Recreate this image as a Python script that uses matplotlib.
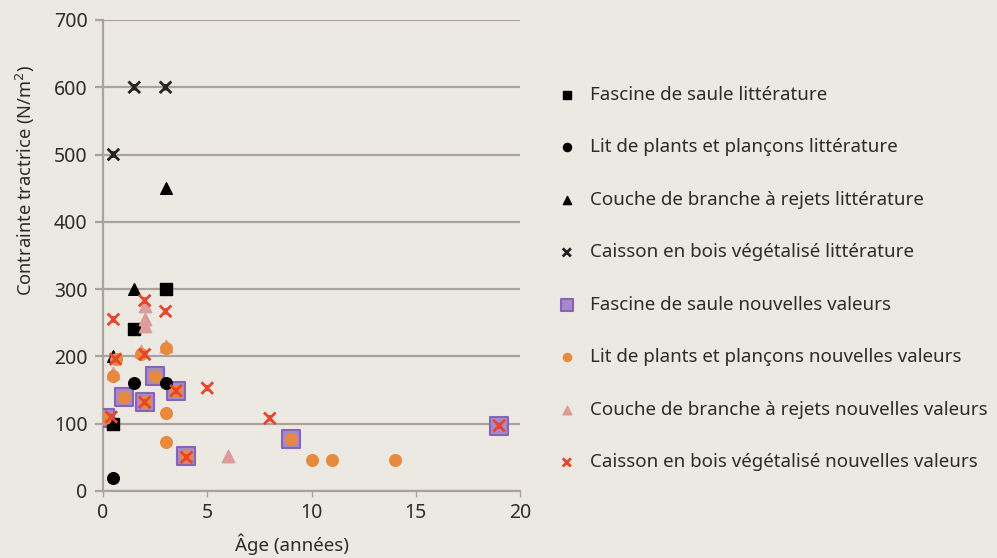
import matplotlib
matplotlib.use("Agg")
import matplotlib.pyplot as plt
from matplotlib.path import Path

# ---- data ----
fascine_lit_x = [0.5, 1.5, 3]
fascine_lit_y = [100, 240, 300]
lit_lit_x = [0.5, 1.5, 3]
lit_lit_y = [20, 160, 160]
couche_lit_x = [0.5, 1.5, 3]
couche_lit_y = [200, 300, 450]
caisson_lit_x = [0.5, 1.5, 3]
caisson_lit_y = [500, 600, 600]

fascine_new_x = [0.1, 1, 2, 2.5, 3.5, 4, 9, 19]
fascine_new_y = [108, 140, 132, 171, 149, 52, 77, 97]
lit_new_x = [0.1, 0.5, 0.6, 1, 1.8, 2, 2.5, 3, 3, 3, 3.5, 4, 9, 10, 11, 14]
lit_new_y = [108, 171, 196, 140, 203, 132, 171, 212, 116, 73, 149, 52, 77, 46, 46, 46]
couche_new_x = [0.5, 1.8, 2, 2, 2, 3, 6]
couche_new_y = [176, 208, 275, 255, 245, 216, 52]
caisson_new_x = [0.4, 0.5, 0.6, 2, 2, 2, 3, 3.5, 4, 5, 8, 19]
caisson_new_y = [110, 255, 196, 283, 203, 132, 267, 149, 50, 153, 108, 97]

labels = [
    "Fascine de saule littérature",
    "Lit de plants et plançons littérature",
    "Couche de branche à rejets littérature",
    "Caisson en bois végétalisé littérature",
    "Fascine de saule nouvelles valeurs",
    "Lit de plants et plançons nouvelles valeurs",
    "Couche de branche à rejets nouvelles valeurs",
    "Caisson en bois végétalisé nouvelles valeurs",
]

plt.rcParams['font.family'] = ['Noto Sans', 'DejaVu Sans']

bg = "#ece9e3"
grid_c = "#aaa39c"
text_c = "#2f2b29"

# x with a short vertical bar (Excel "star" style)
star = Path([(-1, -1), (1, 1), (-1, 1), (1, -1), (0, -0.55), (0, 0.55)],
            [Path.MOVETO, Path.LINETO, Path.MOVETO, Path.LINETO, Path.MOVETO, Path.LINETO])

fig = plt.figure(figsize=(9.97, 5.58), dpi=100, facecolor=bg)
ax = fig.add_axes([0.1033, 0.1201, 0.4183, 0.8441])
ax.set_facecolor(bg)

h = []
h.append(ax.scatter(fascine_lit_x, fascine_lit_y, marker='s', s=70, c='black', zorder=5))
h.append(ax.scatter(lit_lit_x, lit_lit_y, marker='o', s=70, c='black', zorder=5))
h.append(ax.scatter(couche_lit_x, couche_lit_y, marker='^', s=70, c='black', zorder=5))
h.append(ax.scatter(caisson_lit_x, caisson_lit_y, marker=star, s=70, c='none',
                    edgecolors='#222222', linewidths=2, zorder=5))
h.append(ax.scatter(fascine_new_x, fascine_new_y, marker='s', s=150, c='#a58bc7',
                    edgecolors='#8a62b8', linewidths=1.5, zorder=4))
h.append(ax.scatter(couche_new_x, couche_new_y, marker='^', s=80, c='#dc9c9a', zorder=5))
h.append(ax.scatter(lit_new_x, lit_new_y, marker='o', s=70, c='#e88a3e', zorder=6))
h.append(ax.scatter(caisson_new_x, caisson_new_y, marker=star, s=70, c='none',
                    edgecolors='#e8452f', linewidths=2, zorder=7))
# legend order
h = [h[0], h[1], h[2], h[3], h[4], h[6], h[5], h[7]]

ax.set_xlim(0, 20)
ax.set_ylim(0, 700)
ax.set_xticks([0, 5, 10, 15, 20])
ax.set_yticks(range(0, 701, 100))
ax.yaxis.grid(True, color=grid_c, linewidth=1.6)
ax.set_axisbelow(True)
for s in ['top', 'right']:
    ax.spines[s].set_visible(False)
for s in ['left', 'bottom']:
    ax.spines[s].set_color(grid_c)
    ax.spines[s].set_linewidth(1.6)
ax.tick_params(axis='y', length=6, width=1.6, color=grid_c, labelsize=14, labelcolor=text_c, pad=5)
ax.tick_params(axis='x', length=4, width=1, color=grid_c, labelsize=14, labelcolor=text_c, pad=5)

ax.set_xlabel("Âge (années)", fontsize=13.5, color=text_c)
ax.xaxis.set_label_coords(0.453, -0.091)
ax.set_ylabel("Contrainte tractrice (N/m$^2$)", fontsize=13.2, color=text_c)
ax.yaxis.set_label_coords(-0.158, 0.66)

leg = fig.legend(h, labels, loc='upper left', bbox_to_anchor=(0.5375, 0.8764),
                 frameon=False, fontsize=13.5, labelspacing=1.84, handlelength=1.5,
                 handletextpad=0.5, markerscale=0.7, labelcolor=text_c)

fig.savefig("out.png", dpi=100, facecolor=bg)
